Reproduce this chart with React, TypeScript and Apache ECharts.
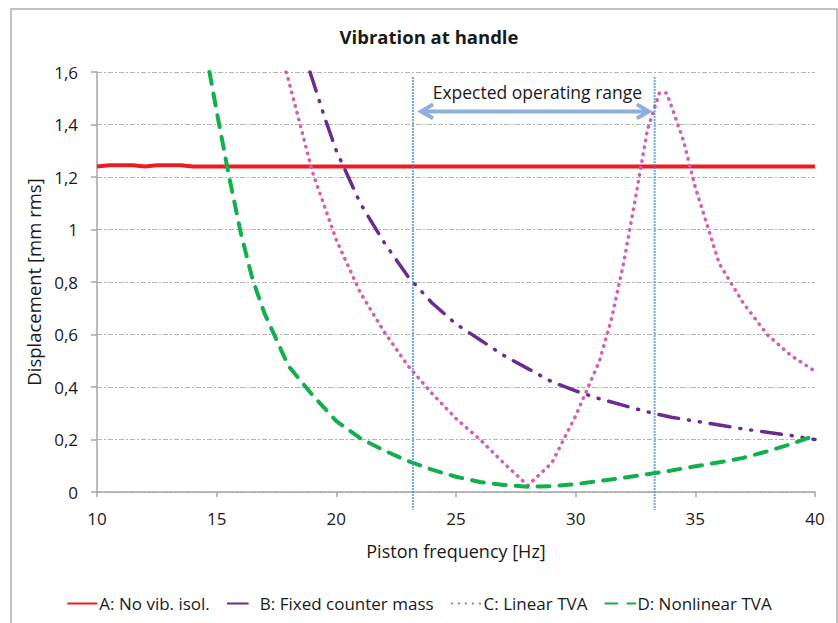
import React, { useEffect, useRef } from "react";
import * as echarts from "echarts";

const TITLE = "Vibration at handle";
const X_NAME = "Piston frequency [Hz]";
const Y_NAME = "Displacement [mm rms]";
const SERIES_NAMES = ["A: No vib. isol.", "B: Fixed counter mass", "C: Linear TVA", "D: Nonlinear TVA"];
const RANGE_TEXT = "Expected operating range";
const RANGE_LIMITS = [23.2, 33.3];

const freqA = [10, 10.5, 11, 11.5, 12, 12.5, 13, 13.5, 14, 15, 20, 25, 30, 35, 40];
const valA = [1.24, 1.245, 1.245, 1.245, 1.24, 1.245, 1.245, 1.245, 1.24, 1.24, 1.24, 1.24, 1.24, 1.24, 1.24];

const freqB = [18.9, 19.5, 20, 21, 22, 23, 24, 25, 26, 27, 28, 29, 30, 31, 32, 33, 34, 35, 36, 37, 38, 39, 40];
const valB = [1.6, 1.43, 1.3, 1.1, 0.95, 0.82, 0.72, 0.64, 0.58, 0.52, 0.47, 0.42, 0.385, 0.355, 0.33, 0.305, 0.285, 0.27, 0.255, 0.24, 0.228, 0.215, 0.2];

const freqC = [17.9, 18, 19, 20, 21, 22, 23, 24, 25, 26, 27, 28, 29, 30, 31, 31.5, 32, 32.5, 33, 33.5, 33.8, 34, 34.5, 35, 36, 37, 38, 39, 40];
const valC = [1.6, 1.57, 1.22, 0.96, 0.76, 0.61, 0.48, 0.375, 0.28, 0.2, 0.11, 0.025, 0.11, 0.29, 0.5, 0.66, 0.87, 1.12, 1.38, 1.52, 1.52, 1.47, 1.34, 1.16, 0.87, 0.72, 0.6, 0.52, 0.46];

const freqD = [14.7, 15, 15.5, 16, 16.5, 17, 17.5, 18, 19, 20, 21, 22, 23, 24, 25, 26, 27, 28, 29, 30, 31, 32, 33, 34, 35, 36, 37, 38, 39, 40];
const valD = [1.6, 1.45, 1.21, 0.99, 0.81, 0.68, 0.58, 0.48, 0.37, 0.27, 0.205, 0.158, 0.118, 0.085, 0.058, 0.038, 0.027, 0.02, 0.022, 0.03, 0.042, 0.054, 0.068, 0.082, 0.098, 0.113, 0.13, 0.155, 0.183, 0.215];

const pairs = (xs: number[], ys: number[]) => xs.map((x, i) => [x, ys[i]]);

const FONT = "'Open Sans', Lato, sans-serif";
const TXT = "#1a1a1a";

export default function App() {
  const ref = useRef<HTMLDivElement>(null);
  useEffect(() => {
    if (!ref.current) return;
    const chart = echarts.init(ref.current, undefined, { renderer: "svg" });
    chart.setOption({
      animation: false,
      backgroundColor: "#fff",
      textStyle: { fontFamily: FONT },
      title: {
        text: TITLE,
        left: 424,
        textAlign: "center",
        top: 22,
        textStyle: { fontSize: 18.5, fontWeight: "bold", color: TXT, fontFamily: FONT },
      },
      grid: { left: 97, right: 23, top: 72, bottom: 131 },
      legend: {
        bottom: 6,
        left: "center",
        itemWidth: 30,
        itemHeight: 4,
        itemGap: 17,
        itemStyle: { color: "rgba(0,0,0,0)", borderColor: "rgba(0,0,0,0)", borderWidth: 0 },
        textStyle: { fontSize: 17, color: TXT, fontFamily: FONT, padding: [0, 0, 0, -3] },
        data: SERIES_NAMES,
      },
      xAxis: {
        type: "value",
        min: 10,
        max: 40,
        interval: 5,
        name: X_NAME,
        nameLocation: "middle",
        nameGap: 50,
        nameTextStyle: { fontSize: 18, color: TXT, fontFamily: FONT },
        axisLine: { lineStyle: { color: "#a6a6a6", width: 1.5 } },
        axisTick: { show: true, length: 5, lineStyle: { color: "#a6a6a6", width: 1.5 } },
        axisLabel: { fontSize: 17, color: TXT, margin: 18, fontFamily: FONT },
        splitLine: { show: false },
      },
      yAxis: {
        type: "value",
        min: 0,
        max: 1.6,
        interval: 0.2,
        name: Y_NAME,
        nameLocation: "middle",
        nameGap: 50,
        nameTextStyle: { fontSize: 18.5, color: TXT, fontFamily: FONT },
        axisLine: { show: true, lineStyle: { color: "#a6a6a6", width: 1.5 } },
        axisTick: { show: true, length: 6, lineStyle: { color: "#a6a6a6", width: 1.5 } },
        axisLabel: {
          fontSize: 17,
          color: TXT,
          margin: 19,
          fontFamily: FONT,
          formatter: (v: number) => String(Math.round(v * 10) / 10).replace(".", ","),
        },
        splitLine: { show: true, lineStyle: { color: "#b4b4b4", width: 1.2, type: [5, 2, 2, 2] } },
      },
      series: [
        {
          name: SERIES_NAMES[0],
          type: "line",
          symbol: "none",
          data: pairs(freqA, valA),
          lineStyle: { color: "#ed1c24", width: 4 },
          itemStyle: { color: "#ed1c24" },
        },
        {
          name: SERIES_NAMES[1],
          type: "line",
          symbol: "none",
          data: pairs(freqB, valB),
          lineStyle: { color: "#6a2c91", width: 3.5, type: [20, 10, 1, 10, 1, 10], cap: "round" },
          itemStyle: { color: "#6a2c91" },
        },
        {
          name: SERIES_NAMES[2],
          type: "line",
          symbol: "none",
          data: pairs(freqC, valC),
          lineStyle: { color: "#d35fb0", width: 3.5, type: [0.5, 6.5], cap: "round" },
          itemStyle: { color: "#d35fb0" },
        },
        {
          name: SERIES_NAMES[3],
          type: "line",
          symbol: "none",
          data: pairs(freqD, valD),
          lineStyle: { color: "#12b04c", width: 4, type: [12, 10], cap: "round" },
          itemStyle: { color: "#12b04c" },
        },
      ],
    });

    const p = (x: number, y: number) => chart.convertToPixel({ gridIndex: 0 }, [x, y]) as number[];
    const [x1, yTop] = p(RANGE_LIMITS[0], 1.58);
    const [x2] = p(RANGE_LIMITS[1], 1.58);
    const [, yAxis0] = p(RANGE_LIMITS[0], 0);
    const [aL, aY] = p(23.5, 1.45);
    const [aR] = p(33.1, 1.45);
    const [tx, ty] = p(28.4, 1.525);
    const arrowColor = "#8eaedb";
    const vColor = "#3d8fd9";
    chart.setOption({
      graphic: [
        {
          type: "rect",
          shape: { x: 11, y: 9, width: 826, height: 630 },
          style: { fill: "none", stroke: "#b0b0b0", lineWidth: 1.5 },
          silent: true,
        },
        {
          type: "line",
          shape: { x1: x1, y1: yTop, x2: x1, y2: yAxis0 + 18 },
          style: { stroke: vColor, lineWidth: 2, lineDash: [1.5, 1.5] },
          z: 10,
        },
        {
          type: "line",
          shape: { x1: x2, y1: yTop, x2: x2, y2: yAxis0 + 18 },
          style: { stroke: vColor, lineWidth: 2, lineDash: [1.5, 1.5] },
          z: 10,
        },
        {
          type: "line",
          shape: { x1: aL + 2, y1: aY, x2: aR - 2, y2: aY },
          style: { stroke: arrowColor, lineWidth: 4 },
          z: 10,
        },
        {
          type: "polyline",
          shape: { points: [[aL + 13, aY - 7], [aL + 1, aY], [aL + 13, aY + 7]] },
          style: { stroke: arrowColor, lineWidth: 4, fill: "none", lineJoin: "miter" },
          z: 10,
        },
        {
          type: "polyline",
          shape: { points: [[aR - 13, aY - 7], [aR - 1, aY], [aR - 13, aY + 7]] },
          style: { stroke: arrowColor, lineWidth: 4, fill: "none", lineJoin: "miter" },
          z: 10,
        },
        {
          type: "text",
          x: tx,
          y: ty,
          style: {
            text: RANGE_TEXT,
            fontSize: 17.5,
            fontFamily: FONT,
            fill: TXT,
            align: "center",
            verticalAlign: "middle",
            backgroundColor: "#fff",
          },
          z: 11,
        },
      ],
    });
    return () => chart.dispose();
  }, []);
  return <div ref={ref} style={{ position: "absolute", left: 0, top: 0, width: 838, height: 623 }} />;
}
